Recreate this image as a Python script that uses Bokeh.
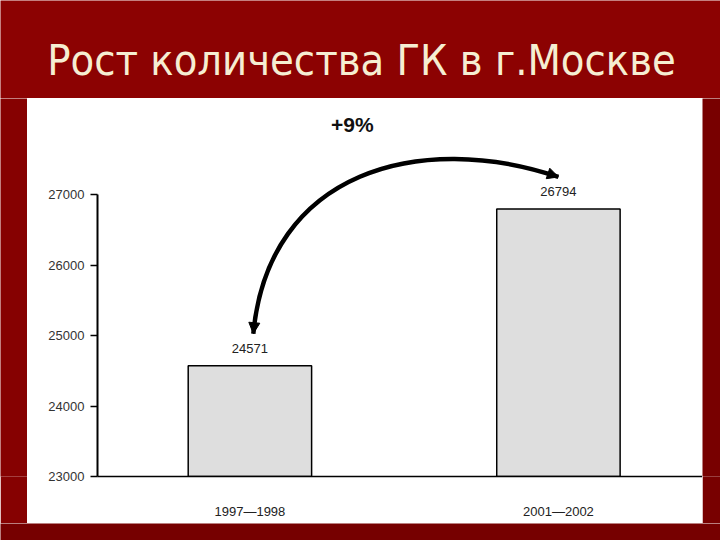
from bokeh.plotting import figure
from bokeh.layouts import column, row
from bokeh.models import Range1d, Label, Arrow, NormalHead, FixedTicker
from bokeh.core.properties import value
from bokeh.embed import file_html
from bokeh.resources import INLINE

# ---- data ----
title_text = "Рост количества ГК в г.Москве"
categories = ["1997—1998", "2001—2002"]
values = [24571, 26794]
y_ticks = [23000, 24000, 25000, 26000, 27000]
growth_label = "+9%"

# ---- style ----
RED_TOP = "#8c0202"
RED_LEFT = "#860101"
RED_RIGHT = "#780000"
RED_BOTTOM = "#760000"
BAR_FILL = "#dedede"
NUM_FONT = "Liberation Sans"
TITLE_FONT = "DejaVu Sans Condensed"


def spacer(w, h, color):
    s = figure(width=w, height=h, output_backend="svg", toolbar_location=None,
               x_axis_location=None, y_axis_location=None,
               x_range=Range1d(0, w), y_range=Range1d(0, h),
               min_border=0)
    s.grid.visible = False
    s.outline_line_color = None
    s.background_fill_color = color
    s.border_fill_color = color
    return s


# title band
top = spacer(720, 98, RED_TOP)
top.text(x=[361], y=[39], text=[title_text], text_align="center",
         text_baseline="middle", text_font=value(TITLE_FONT),
         text_font_size="43px", text_color="#f6eed2")

xs = list(range(len(categories)))

p = figure(width=675, height=425, output_backend="svg", toolbar_location=None,
           x_range=Range1d(-0.494, 1.467), y_range=Range1d(y_ticks[0], 28362),
           min_border_left=70, min_border_right=0, min_border_top=0,
           min_border_bottom=47)
p.background_fill_color = "white"
p.border_fill_color = "white"
p.outline_line_color = None
p.xgrid.visible = False
p.ygrid.visible = False

# bars
p.vbar(x=xs, top=values, bottom=y_ticks[0], width=0.4,
       fill_color=BAR_FILL, line_color="black", line_width=1.5)

# value labels
p.text(x=xs, y=values, text=[str(v) for v in values],
       text_align="center", text_baseline="bottom", y_offset=-13,
       text_font=value(NUM_FONT), text_font_size="13px", text_color="#222222")

# curved growth arrow from first to second value
lift = 455
x0, x1 = xs[0], xs[1]
v0, v1 = values[0], values[1]
sx, sy = x0 + 0.011, v0 + lift
ex, ey = x1, v1 + lift
c0x, c0y = x0 + 0.06, v1 + 546
c1x, c1y = x0 + 0.553 * (x1 - x0), v1 + 1114
p.bezier(x0=[sx], y0=[sy], x1=[ex], y1=[ey], cx0=[c0x], cy0=[c0y],
         cx1=[c1x], cy1=[c1y], line_color="black", line_width=4.5)

f = 0.04
for (tx, ty, bx, by) in [(sx, sy, c0x, c0y), (ex, ey, c1x, c1y)]:
    head = NormalHead(size=11, fill_color="black", line_color="black")
    p.add_layout(Arrow(end=head, x_start=tx + f * (bx - tx), y_start=ty + f * (by - ty),
                       x_end=tx, y_end=ty, line_color="black", line_width=2))

p.add_layout(Label(x=x0 + 0.332 * (x1 - x0), y=v1 + 1200, text=growth_label,
                   text_align="center", text_baseline="middle",
                   text_font=NUM_FONT, text_font_size="21px",
                   text_font_style="bold", text_color="#111111"))

# axes
p.yaxis.ticker = FixedTicker(ticks=y_ticks)
p.yaxis.bounds = (y_ticks[0], y_ticks[-1])
p.yaxis.major_tick_out = 7
p.yaxis.major_tick_in = 0
p.yaxis.minor_tick_line_color = None
p.yaxis.axis_line_width = 2
p.yaxis.major_tick_line_width = 1.5
p.yaxis.major_label_standoff = 6
p.yaxis.major_label_text_font = NUM_FONT
p.yaxis.major_label_text_font_size = "13px"
p.yaxis.major_label_text_color = "#333333"

p.xaxis.ticker = FixedTicker(ticks=xs)
p.xaxis.major_label_overrides = {i: c for i, c in zip(xs, categories)}
p.xaxis.major_tick_line_color = None
p.xaxis.minor_tick_line_color = None
p.xaxis.axis_line_width = 1.5
p.xaxis.major_label_standoff = 21
p.xaxis.major_label_text_font = NUM_FONT
p.xaxis.major_label_text_font_size = "13px"
p.xaxis.major_label_text_color = "#222222"

layout = column(
    top,
    row(spacer(27, 425, RED_LEFT), p, spacer(18, 425, RED_RIGHT)),
    spacer(720, 17, RED_BOTTOM),
)

open("out.html", "w").write(file_html(layout, INLINE))
